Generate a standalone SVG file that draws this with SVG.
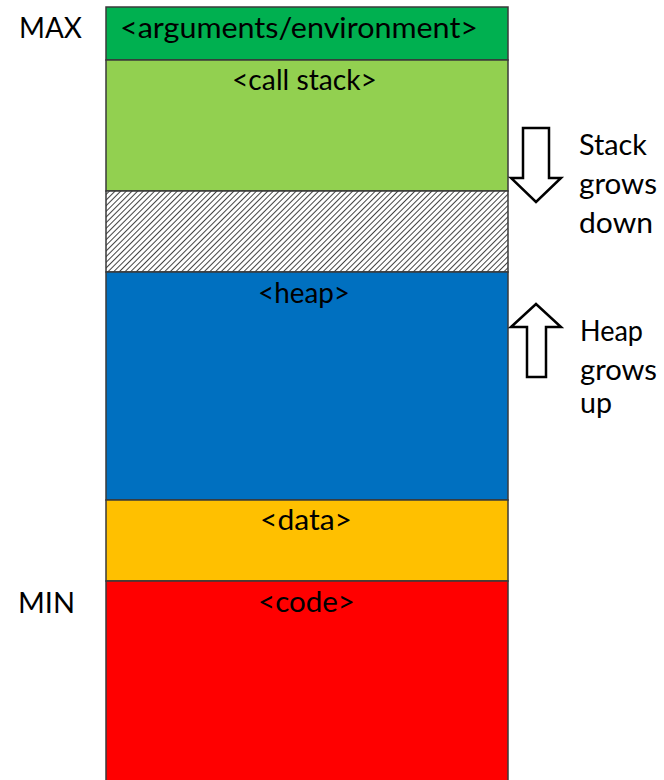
<svg xmlns="http://www.w3.org/2000/svg" width="664" height="780" viewBox="0 0 664 780">
<style>
.seg{stroke:#3a3a3a;stroke-width:1.5}
.t{font-family:Lato,"Open Sans",sans-serif;font-size:28px;fill:#000}
.arr{fill:#fff;stroke:#000;stroke-width:2.5;stroke-linejoin:miter}
</style>
<defs>
<pattern id="hatch" patternUnits="userSpaceOnUse" width="4" height="4" patternTransform="rotate(45)">
<rect width="4" height="4" fill="#fff"/>
<line x1="0" y1="0" x2="0" y2="4" stroke="#222" stroke-width="1.7"/>
</pattern>
</defs>
<rect width="664" height="780" fill="#fff"/>
<g id="args"><rect class="seg" x="106" y="7" width="402" height="53" fill="#00B050"/><text class="t" x="120" y="38" textLength="358" lengthAdjust="spacingAndGlyphs">&lt;arguments/environment&gt;</text></g>
<g id="callstack"><rect class="seg" x="106" y="60" width="402" height="131" fill="#92D050"/><text class="t" x="232" y="90" textLength="145" lengthAdjust="spacingAndGlyphs">&lt;call stack&gt;</text></g>
<g id="free"><rect class="seg" x="106" y="191" width="402" height="81" fill="url(#hatch)"/></g>
<g id="heap"><rect class="seg" x="106" y="272" width="402" height="228" fill="#0070C0"/><text class="t" x="258" y="303" textLength="92" lengthAdjust="spacingAndGlyphs">&lt;heap&gt;</text></g>
<g id="data"><rect class="seg" x="106" y="500" width="402" height="81" fill="#FFC000"/><text class="t" x="260" y="530" textLength="92" lengthAdjust="spacingAndGlyphs">&lt;data&gt;</text></g>
<g id="code"><rect class="seg" x="106" y="581" width="402" height="210" fill="#FF0000"/><text class="t" x="258" y="612" textLength="97" lengthAdjust="spacingAndGlyphs">&lt;code&gt;</text></g>
<g id="labels">
<text class="t" x="19" y="38" textLength="63" lengthAdjust="spacingAndGlyphs">MAX</text>
<text class="t" x="18" y="613" textLength="57" lengthAdjust="spacingAndGlyphs">MIN</text>
</g>
<g id="connectors">
<path class="arr" d="M523,128 H549 V178 H561 L536,202 L511,178 H523 Z"/>
<path class="arr" d="M527,377 H546 V327 H561 L536,304 L511,327 H527 Z"/>
</g>
<g id="stack-note"><text class="t" x="579" y="155" textLength="68" lengthAdjust="spacingAndGlyphs">Stack</text><text class="t" x="579" y="194" textLength="78" lengthAdjust="spacingAndGlyphs">grows</text><text class="t" x="579" y="233" textLength="74" lengthAdjust="spacingAndGlyphs">down</text></g>
<g id="heap-note"><text class="t" x="580" y="341" textLength="63" lengthAdjust="spacingAndGlyphs">Heap</text><text class="t" x="580" y="380" textLength="77" lengthAdjust="spacingAndGlyphs">grows</text><text class="t" x="580" y="413" textLength="32" lengthAdjust="spacingAndGlyphs">up</text></g>
</svg>
